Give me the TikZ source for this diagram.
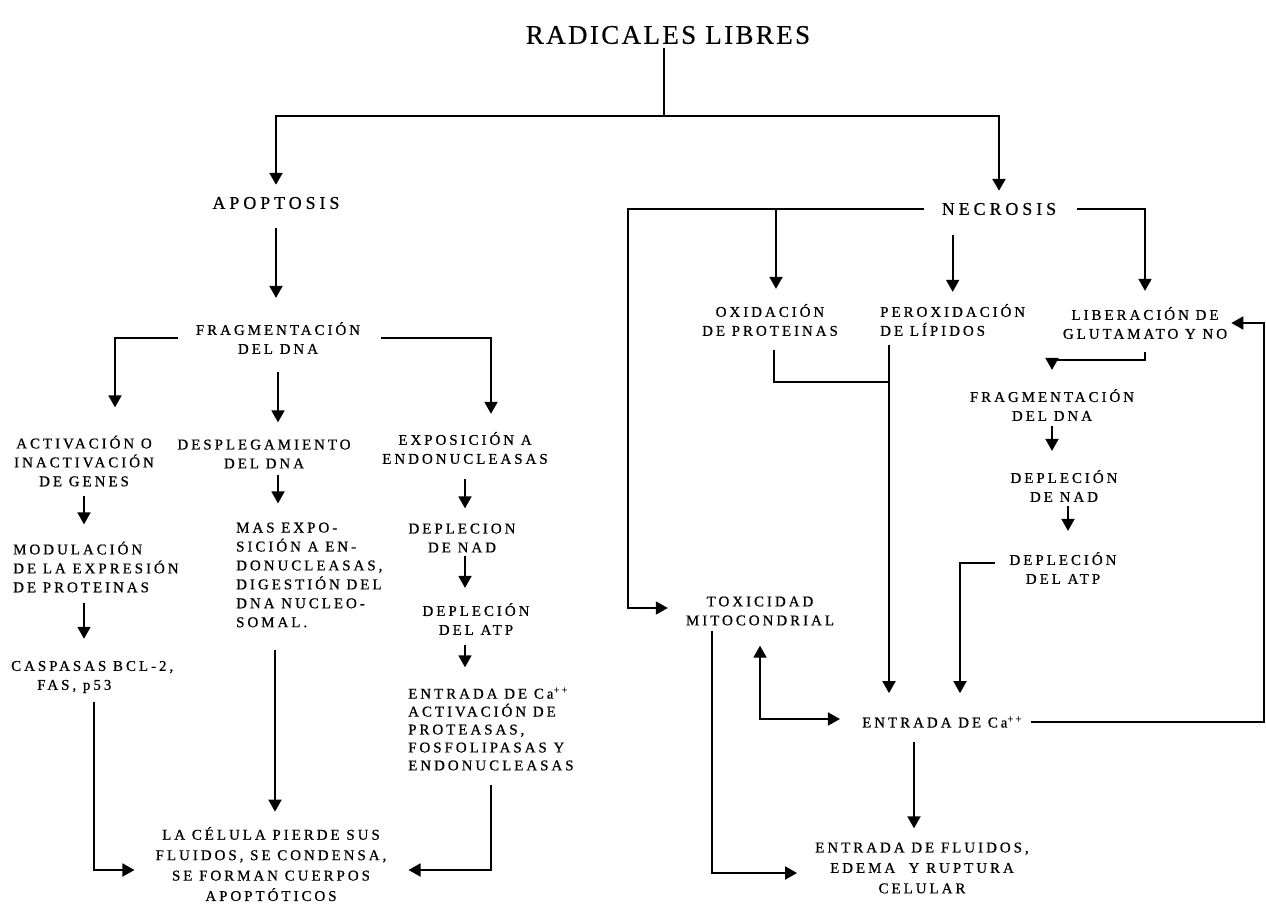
\documentclass[tikz,border=0pt]{standalone}
\usepackage{fontspec}
\newfontfamily\bodyfont{Liberation Serif}[LetterSpace=20,FakeBold=0.7]
\newfontfamily\midfont{Liberation Serif}[LetterSpace=22,FakeBold=0.7]
\newfontfamily\titlefont{Liberation Serif}[LetterSpace=9,FakeBold=0.5]
\usetikzlibrary{arrows.meta}
\begin{document}
\begin{tikzpicture}[x=1bp,y=-1bp,
  txt/.style={inner sep=0pt, font=\bodyfont\fontsize{15}{19}\selectfont, align=center},
  txtl/.style={txt, align=left, anchor=west},
  wide/.style={inner sep=0pt, font=\bodyfont\fontsize{15}{20.5}\selectfont, align=center},
  big/.style={inner sep=0pt, font=\midfont\fontsize{18}{22}\selectfont},
  ttl/.style={inner sep=0pt, font=\titlefont\fontsize{27}{30}\selectfont},
  ln/.style={line width=1.8bp},
  tip/.tip={Triangle[width=13bp,length=12bp]},
  arr/.style={ln, -tip},
  trunk/.style={line width=2.5bp}]
\useasboundingbox (0,0) rectangle (1266,905);

% ---------- nodes ----------
\node[ttl] (title) at (668,35) {RADICALES LIBRES};
\node[big] (apop) at (276,203) {APOPTOSIS};
\node[big] (necr) at (999,209) {NECROSIS};

\node[txt] (fragL) at (278,338) {FRAGMENTACIÓN\\DEL DNA};
\node[txt] (act) at (84,461) {ACTIVACIÓN O\\INACTIVACIÓN\\DE GENES};
\node[txtl] (mod) at (13,567) {MODULACIÓN\\DE LA EXPRESIÓN\\DE PROTEINAS};
\node[txtl] (casp) at (11,677) {CASPASAS BCL-2,\\\hspace*{26bp}FAS, p53};
\node[txt] (despl) at (264,454) {DESPLEGAMIENTO\\DEL DNA};
\node[txtl] (mas) at (236,575) {MAS EXPO-\\SICIÓN A EN-\\DONUCLEASAS,\\DIGESTIÓN DEL\\DNA NUCLEO-\\SOMAL.};
\node[wide] (celula) at (271,864) {LA CÉLULA PIERDE SUS\\FLUIDOS, SE CONDENSA,\\SE FORMAN CUERPOS\\APOPTÓTICOS};
\node[txt] (expos) at (465,448) {EXPOSICIÓN A\\ENDONUCLEASAS};
\node[txt] (nadL) at (462,538) {DEPLECION\\DE NAD};
\node[txt] (atpL) at (476,619) {DEPLECIÓN\\DEL ATP};
\node[txtl, font=\bodyfont\fontsize{15}{18}\selectfont] (entL) at (408,729) {ENTRADA DE Ca\textsuperscript{++}\\ACTIVACIÓN DE\\PROTEASAS,\\FOSFOLIPASAS Y\\ENDONUCLEASAS};

\node[txt] (oxid) at (770,320) {OXIDACIÓN\\DE PROTEINAS};
\node[txtl] (perox) at (880,320) {PEROXIDACIÓN\\DE LÍPIDOS};
\node[txt] (liber) at (1145,323) {LIBERACIÓN DE\\GLUTAMATO Y NO};
\node[txt] (fragR) at (1052,405) {FRAGMENTACIÓN\\DEL DNA};
\node[txt] (nadR) at (1064,486) {DEPLECIÓN\\DE NAD};
\node[txt] (atpR) at (1063,568) {DEPLECIÓN\\DEL ATP};
\node[txt] (tox) at (760,611) {TOXICIDAD\\MITOCONDRIAL};
\node[txt] (entR) at (942,722) {ENTRADA DE Ca\textsuperscript{++}};
\node[wide] (flu) at (922,868) {ENTRADA DE FLUIDOS,\\EDEMA\ \ Y RUPTURA\\CELULAR};

% ---------- helper coordinates ----------
\coordinate (j1) at (664,116);
\coordinate (cL) at (628,207);
\coordinate (m1) at (889,382);
\coordinate (b2) at (1145,360);
\coordinate (rc) at (1264,500);

% ---------- connectors: top ----------
\draw[trunk, shorten <=4bp] (title.south -| j1) -- (j1);
\draw[arr, trunk, shorten >=12bp] (j1) -| (apop.north);
\draw[arr, trunk, shorten >=12bp] (j1) -| (necr.north);

% ---------- apoptosis ----------
\draw[arr, shorten <=19bp, shorten >=24bp] (apop.south) -- (apop.south |- fragL.north);
\draw[arr, shorten <=18bp, shorten >=28bp] (fragL.west) -| ([xshift=31bp]act.north);
\draw[arr, shorten <=18bp, shorten >=17bp] (fragL.south) -- (fragL.south |- despl.north);
\draw[arr, shorten <=21bp, shorten >=18bp] (fragL.east) -| ([xshift=26bp]expos.north);

\draw[arr, shorten <=9bp, shorten >=17bp] (act.south) -- (act.south |- mod.north);
\draw[arr, shorten <=10bp, shorten >=22bp] (act.south |- mod.south) -- (act.south |- casp.north);
\draw[arr, shorten <=9bp, shorten >=21bp] ([xshift=2bp]casp.south) |- ([yshift=-6bp]celula.west);

\draw[arr, shorten <=6bp, shorten >=19bp] (fragL.south |- despl.south) -- (fragL.south |- mas.north);
\draw[arr, shorten <=22bp, shorten >=15bp] ([xshift=4bp]celula.north |- mas.south) -- ([xshift=4bp]celula.north);

\draw[arr, shorten <=15bp, shorten >=15bp] (expos.south) -- (expos.south |- nadL.north);
\draw[arr, shorten <=3bp, shorten >=15bp] (expos.south |- nadL.south) -- (expos.south |- atpL.north);
\draw[arr, shorten <=10bp, shorten >=20bp] (expos.south |- atpL.south) -- (expos.south |- entL.north);
\draw[arr, shorten <=14bp, shorten >=22bp] (entL.south) |- ([yshift=-6bp]celula.east);

% ---------- necrosis ----------
\draw[arr, shorten <=18bp, shorten >=18bp] (necr.west) -- (necr.west -| cL) |- ([yshift=3bp]tox.west);
\draw[arr, shorten >=15bp] ([xshift=6bp]oxid.north |- necr.west) -- ([xshift=6bp]oxid.north);
\draw[arr, shorten <=20bp, shorten >=12bp] (perox.north |- necr.south) -- (perox.north);
\draw[arr, shorten <=21bp, shorten >=16bp] (necr.east) -| (liber.north);

\draw[ln, shorten <=14bp] ([xshift=4bp]oxid.south) |- (m1);
\draw[arr, shorten <=9bp, shorten >=23bp] (perox.south -| m1) -- (m1 |- entR.north);

\draw[arr, shorten <=13bp, shorten >=19bp] (liber.south) -- (b2) -| (fragR.north);
\draw[arr, shorten <=5bp, shorten >=19bp] (fragR.south) -- (fragR.south |- nadR.north);
\draw[arr, shorten <=4bp, shorten >=21bp] ([xshift=4bp]nadR.south) -- ([xshift=4bp]nadR.south |- atpR.north);
\draw[arr, shorten <=14bp, shorten >=23bp] ([yshift=5bp]atpR.west) -| ([xshift=18bp]entR.north);

\draw[ln, tip-tip, shorten <=20bp, shorten >=22bp] (tox.south) |- ([yshift=3bp]entR.west);
\draw[arr, shorten <=5bp, shorten >=18bp] ([xshift=-48bp]tox.south) |- ([yshift=-5bp]flu.west);
\draw[arr, shorten <=14bp, shorten >=14bp] ([xshift=-28bp]entR.south) -- ([xshift=-28bp]entR.south |- flu.north);
\draw[arr, shorten <=9bp, shorten >=4bp] (entR.east) -| (rc) |- (liber.east);
\end{tikzpicture}
\end{document}
